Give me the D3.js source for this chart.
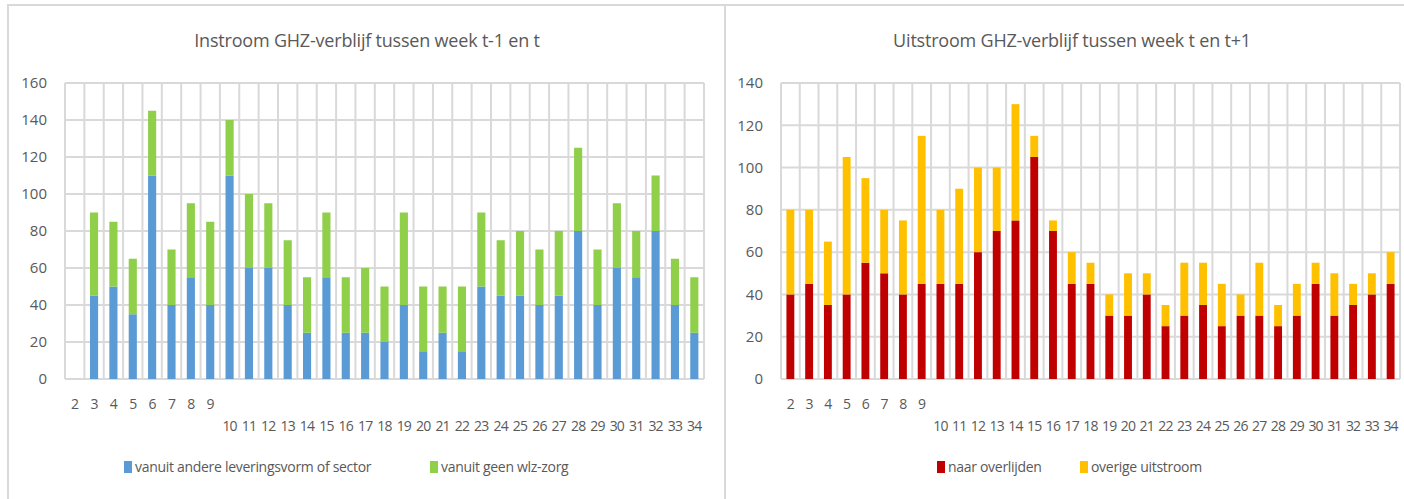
<!DOCTYPE html>
<html>
<head>
<meta charset="utf-8">
<script src="https://cdn.jsdelivr.net/npm/d3@7"></script>
<style>
  body { margin: 0; background: #fff; }
  text { font-family: "Open Sans", "Liberation Sans", sans-serif; fill: #595959; }
</style>
</head>
<body>
<div id="chart"></div>
<script>
// weeks 2..34
var weeks = d3.range(2, 35).map(String);

// Instroom
var vanuitAndere = [0, 45, 50, 35, 110, 40, 55, 40, 110, 60, 60, 40, 25, 55, 25, 25, 20, 40, 15, 25, 15, 50, 45, 45, 40, 45, 80, 40, 60, 55, 80, 40, 25];
var vanuitGeen   = [0, 45, 35, 30, 35, 30, 40, 45, 30, 40, 35, 35, 30, 35, 30, 35, 30, 50, 35, 25, 35, 40, 30, 35, 30, 35, 45, 30, 35, 25, 30, 25, 30];

// Uitstroom
var naarOverlijden = [40, 45, 35, 40, 55, 50, 40, 45, 45, 45, 60, 70, 75, 105, 70, 45, 45, 30, 30, 40, 25, 30, 35, 25, 30, 30, 25, 30, 45, 30, 35, 40, 45];
var overigeUit     = [40, 35, 30, 65, 40, 30, 35, 70, 35, 45, 40, 30, 55, 10, 5, 15, 10, 10, 20, 10, 10, 25, 20, 20, 10, 25, 10, 15, 10, 20, 10, 10, 15];

var leftTicks = d3.range(0, 161, 20);
var rightTicks = d3.range(0, 141, 20);

var svg = d3.select("#chart").append("svg")
    .attr("width", 1404)
    .attr("height", 499);

svg.append("rect").attr("width", 1404).attr("height", 499).attr("fill", "#fff");

// panel frames
svg.append("rect").attr("x", 8).attr("y", 5).attr("width", 717).attr("height", 500)
    .attr("fill", "none").attr("stroke", "#d9d9d9").attr("stroke-width", 2);
svg.append("rect").attr("x", 725).attr("y", 5).attr("width", 700).attr("height", 500)
    .attr("fill", "none").attr("stroke", "#d9d9d9").attr("stroke-width", 2);

function drawChart(opt) {
    var g = svg.append("g");
    var x = d3.scaleBand().domain(weeks).range([opt.x0, opt.x1]);
    var y = d3.scaleLinear().domain([0, opt.max]).range([379, 83]);

    g.append("text")
        .attr("x", opt.titleX).attr("y", 47)
        .attr("text-anchor", "middle")
        .style("font-size", "18px")
        .style("letter-spacing", "-0.2px")
        .text(opt.title);

    // gridlines
    g.selectAll(".hg").data(opt.ticks).enter().append("line")
        .attr("x1", opt.x0).attr("x2", opt.x1)
        .attr("y1", function (d) { return y(d); })
        .attr("y2", function (d) { return y(d); })
        .attr("stroke", "#d9d9d9").attr("stroke-width", 2);
    var bounds = weeks.map(function (w) { return x(w); }).concat([opt.x1]);
    g.selectAll(".vg").data(bounds).enter().append("line")
        .attr("x1", function (d) { return d; }).attr("x2", function (d) { return d; })
        .attr("y1", y(opt.max)).attr("y2", y(0))
        .attr("stroke", "#d9d9d9").attr("stroke-width", 2);

    // y labels
    g.selectAll(".yl").data(opt.ticks).enter().append("text")
        .attr("x", opt.x0 - 18)
        .attr("y", function (d) { return y(d); })
        .attr("dy", "0.35em")
        .attr("text-anchor", "end")
        .style("font-size", "15px")
        .text(function (d) { return d; });

    // x labels, two rows
    g.selectAll(".xl").data(weeks).enter().append("text")
        .attr("x", function (d) { return x(d) + x.bandwidth() / 2; })
        .attr("y", function (d) { return d.length === 1 ? 409 : 431; })
        .attr("text-anchor", "middle")
        .style("font-size", "14px")
        .style("letter-spacing", "-0.8px")
        .text(function (d) { return d; });

    var stack = d3.stack().keys(["a", "b"]);
    var rows = weeks.map(function (w, i) { return { week: w, a: opt.a[i], b: opt.b[i] }; });
    var series = stack(rows);
    var bw = x.bandwidth() * 0.42;

    g.selectAll(".s").data(series).enter().append("g")
        .attr("fill", function (d, i) { return opt.colors[i]; })
        .selectAll("rect").data(function (d) { return d; }).enter().append("rect")
        .attr("x", function (d) { return x(d.data.week) + (x.bandwidth() - bw) / 2; })
        .attr("width", bw)
        .attr("y", function (d) { return y(d[1]); })
        .attr("height", function (d) { return y(d[0]) - y(d[1]); });

    // legend
    var lg = g.append("g");
    opt.legend.forEach(function (l, i) {
        lg.append("rect").attr("x", l.x).attr("y", 461).attr("width", 8).attr("height", 12)
            .attr("fill", opt.colors[i]);
        lg.append("text").attr("x", l.x + 11).attr("y", 472)
            .style("font-size", "14px")
            .style("letter-spacing", "-0.3px")
            .text(l.label);
    });
}

drawChart({
    title: "Instroom GHZ-verblijf tussen week t-1 en t",
    titleX: 367,
    x0: 65, x1: 704,
    max: 160, ticks: leftTicks,
    a: vanuitAndere, b: vanuitGeen,
    colors: ["#5b9bd5", "#8fcf4a"],
    legend: [{ x: 124, label: "vanuit andere leveringsvorm of sector" }, { x: 430, label: "vanuit geen wlz-zorg" }]
});

drawChart({
    title: "Uitstroom GHZ-verblijf tussen week t en t+1",
    titleX: 1072,
    x0: 781, x1: 1400,
    max: 140, ticks: rightTicks,
    a: naarOverlijden, b: overigeUit,
    colors: ["#c00000", "#ffc000"],
    legend: [{ x: 937, label: "naar overlijden" }, { x: 1080, label: "overige uitstroom" }]
});
</script>
</body>
</html>
